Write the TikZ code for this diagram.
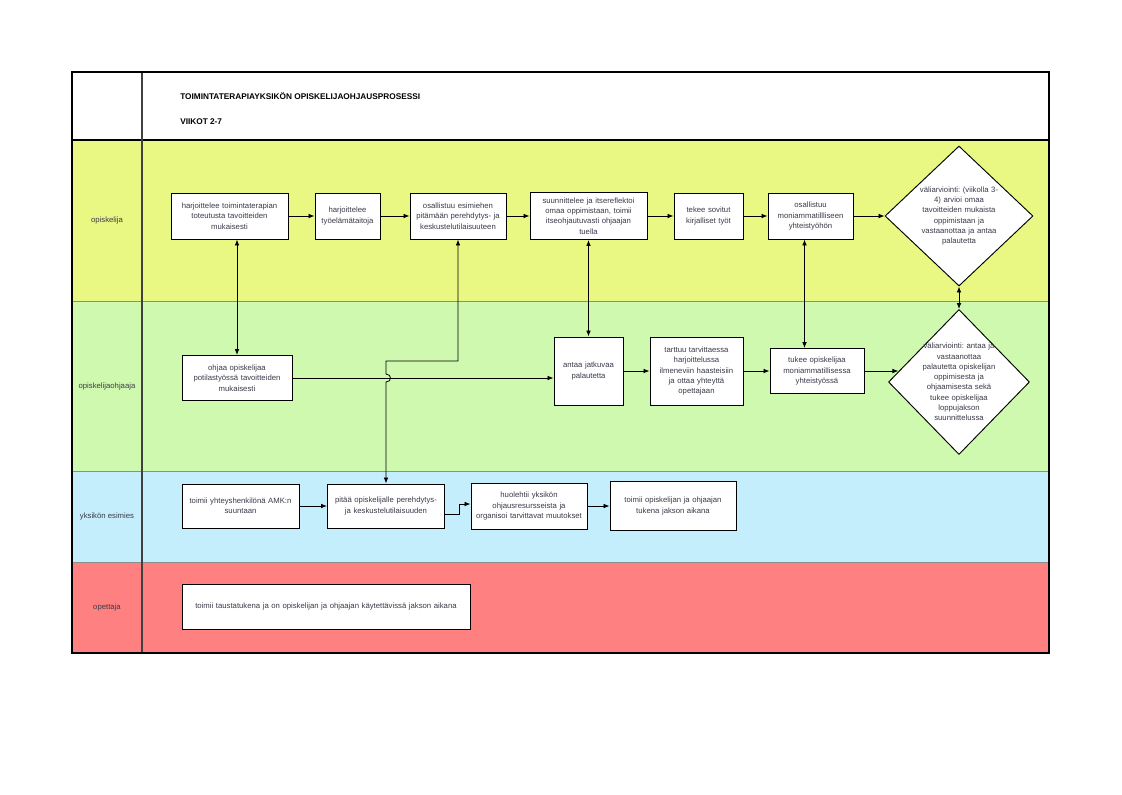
\documentclass[tikz,border=0pt]{standalone}
\usepackage{fontspec}
\setmainfont{Liberation Sans}
\usetikzlibrary{calc,positioning,shapes.geometric,arrows.meta}
\definecolor{laneyellow}{HTML}{E9F783}
\definecolor{lanegreen}{HTML}{D0F9B0}
\definecolor{laneblue}{HTML}{C4EEFC}
\definecolor{lanered}{HTML}{FF8080}
\definecolor{boxtext}{HTML}{3A3A4A}

\begin{document}
\begin{tikzpicture}[x=0.75pt,y=-0.75pt,
  txt/.style={font=\fontsize{5.8}{7.7}\selectfont\frenchspacing, text=boxtext},
  box/.style 2 args={draw, fill=white, line width=0.7pt, txt, inner sep=0pt, align=center,
    minimum width=#1*0.75pt, minimum height=#2*0.75pt, text width=#1*0.75pt-5pt},
  dia/.style 2 args={diamond, draw, fill=white, line width=0.7pt, inner sep=0pt,
    minimum width=#1*0.75pt, minimum height=#2*0.75pt},
  lanesep/.style={line width=0.6pt, black!45},
  arr/.style={line width=0.6pt, -{Latex[length=4.5pt,width=3.5pt]}},
  dbl/.style={line width=0.6pt, {Latex[length=4.5pt,width=3.5pt]}-{Latex[length=4.5pt,width=3.5pt]}}]
\useasboundingbox (0,0) rectangle (1122,794);
% lanes
\fill[laneyellow] (72,140) rectangle (1049,301);
\fill[lanegreen] (72,301) rectangle (1049,471);
\fill[laneblue] (72,471) rectangle (1049,562);
\fill[lanered] (72,562) rectangle (1049,653);
\draw[lanesep] (72,301) -- (1049,301);
\draw[lanesep] (72,471) -- (1049,471);
\draw[lanesep] (72,562) -- (1049,562);
\draw[line width=0.8pt] (72,140) -- (1049,140);
\draw[line width=1pt, black!75] (142,72) -- (142,653);
\draw[line width=0.8pt] (72,72) rectangle (1049,653);
% header
\node[anchor=west, inner sep=0pt, font=\bfseries\fontsize{6.2}{7.5}\selectfont] (title) at (180,96) {TOIMINTATERAPIAYKSIKÖN OPISKELIJAOHJAUSPROSESSI};
\node[anchor=west, inner sep=0pt, font=\bfseries\fontsize{6.2}{7.5}\selectfont] (weeks) at (180,122) {VIIKOT 2-7};
% lane names
\node[txt] (lopisk) at (107,220) {opiskelija};
\node[txt] (lohj) at (107,386) {opiskelijaohjaaja};
\node[txt] (lesim) at (107,516) {yksikön esimies};
\node[txt] (lopett) at (107,607) {opettaja};
% opiskelija
\node[box={117}{46}] (b1) at (229.5,216) {harjoittelee toimintaterapian\\toteutusta tavoitteiden\\mukaisesti};
\node[box={65}{46}] (b2) at (347.5,216) {harjoittelee\\työelämätaitoja};
\node[box={96}{46}] (b3) at (458,216) {osallistuu esimiehen\\pitämään perehdytys- ja\\keskustelutilaisuuteen};
\node[box={117}{47}] (b4) at (588.5,216) {suunnittelee ja itsereflektoi\\omaa oppimistaan, toimii\\itseohjautuvasti ohjaajan\\tuella};
\node[box={69}{46}] (b5) at (708.5,216) {tekee sovitut\\kirjalliset työt};
\node[box={85}{46}] (b6) at (810.5,216) {osallistuu\\moniammatillliseen\\yhteistyöhön};
\node[dia={148}{140}, label={[txt, text width=64pt, align=center]center:{väliarviointi: (viikolla 3-\\4) arvioi omaa\\tavoitteiden mukaista\\oppimistaan ja\\vastaanottaa ja antaa\\palautetta}}] (d1) at (959,216) {};
% opiskelijaohjaaja
\node[box={110}{45}] (c1) at (237,378) {ohjaa opiskelijaa\\potilastyössä tavoitteiden\\mukaisesti};
\node[box={69}{68}] (c2) at (588.5,371) {antaa jatkuvaa\\palautetta};
\node[box={93}{68}] (c3) at (696.5,371) {tarttuu tarvittaessa\\harjoittelussa\\ilmeneviin haasteisiin\\ja ottaa yhteyttä\\opettajaan};
\node[box={94}{45}] (c4) at (817,371) {tukee opiskelijaa\\moniammatillisessa\\yhteistyössä};
\node[dia={141}{145}, label={[txt, text width=64pt, align=center]center:{väliarviointi: antaa ja\\vastaanottaa\\palautetta opiskelijan\\oppimisesta ja\\ohjaamisesta sekä\\tukee opiskelijaa\\loppujakson\\suunnittelussa}}] (d2) at (959,382) {};
% yksikön esimies
\node[box={117}{44}] (e1) at (240.5,506) {toimii yhteyshenkilönä AMK:n\\suuntaan};
\node[box={117}{44}] (e2) at (386,506) {pitää opiskelijalle perehdytys-\\ja keskustelutilaisuuden};
\node[box={116}{46}] (e3) at (529,506) {huolehtii yksikön\\ohjausresursseista ja\\organisoi tarvittavat muutokset};
\node[box={126}{49}] (e4) at (673,506) {toimii opiskelijan ja ohjaajan\\tukena jakson aikana};
% opettaja
\node[box={288}{45}] (f1) at (326,606.5) {toimii taustatukena ja on opiskelijan ja ohjaajan käytettävissä jakson aikana};
% connectors
\draw[arr] (b1) -- (b2);
\draw[arr] (b2) -- (b3);
\draw[arr] (b3) -- (b4);
\draw[arr] (b4) -- (b5);
\draw[arr] (b5) -- (b6);
\draw[arr] (b6) -- (d1);
\draw[dbl] (b1.south -| c1.north) -- (c1.north);
\draw[dbl] (b3.south) |- (386,361) -- (386,374) .. controls (392,374) and (392,382) .. (386,382) -- (e2.north);
\draw[dbl] (b4.south) -- (c2.north);
\draw[dbl] ($(b6.south)+(-6,0)$) -- ($(c4.north)+(-12.5,0)$);
\draw[dbl] (d1.south) -- (d2.north);
\draw[arr] (c1.east) -- (c1.east -| c2.west);
\draw[arr] (c2) -- (c3);
\draw[arr] (c3) -- (c4);
\draw[arr] (c4.east) -- (c4.east -| d2.170);
\draw[arr] (e1) -- (e2);
\draw[arr] ($(e2.east)+(0,8)$) -- ++(14,0) |- ($(e3.west)+(0,-2)$);
\draw[arr] (e3) -- (e4);
\end{tikzpicture}
\end{document}
